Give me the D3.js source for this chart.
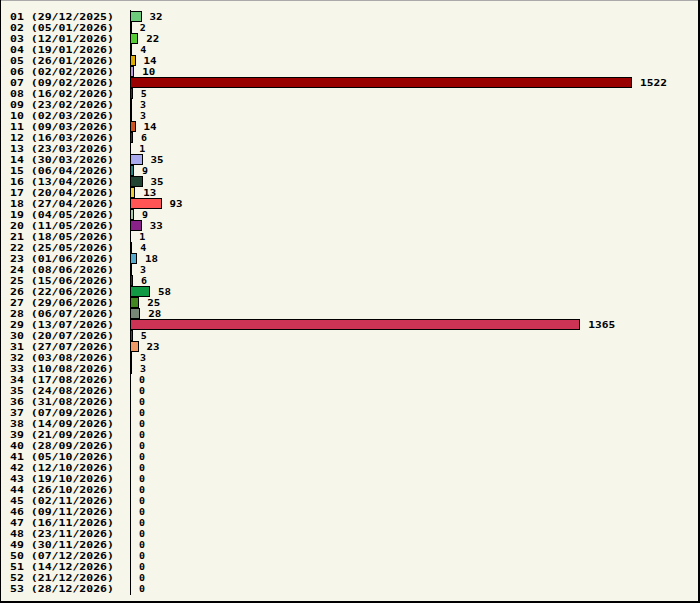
<!DOCTYPE html>
<html><head><meta charset="utf-8">
<script src="https://cdn.jsdelivr.net/npm/d3@7"></script>
<style>html,body{margin:0;padding:0;background:#f6f6ea}svg{display:block}</style>
</head><body>
<svg id="c" width="700" height="603"></svg>
<script>
const weeks = ["01","02","03","04","05","06","07","08","09","10","11","12","13","14","15","16","17","18","19","20","21","22","23","24","25","26","27","28","29","30","31","32","33","34","35","36","37","38","39","40","41","42","43","44","45","46","47","48","49","50","51","52","53"];
const dates = ["29/12/2025","05/01/2026","12/01/2026","19/01/2026","26/01/2026","02/02/2026","09/02/2026","16/02/2026","23/02/2026","02/03/2026","09/03/2026","16/03/2026","23/03/2026","30/03/2026","06/04/2026","13/04/2026","20/04/2026","27/04/2026","04/05/2026","11/05/2026","18/05/2026","25/05/2026","01/06/2026","08/06/2026","15/06/2026","22/06/2026","29/06/2026","06/07/2026","13/07/2026","20/07/2026","27/07/2026","03/08/2026","10/08/2026","17/08/2026","24/08/2026","31/08/2026","07/09/2026","14/09/2026","21/09/2026","28/09/2026","05/10/2026","12/10/2026","19/10/2026","26/10/2026","02/11/2026","09/11/2026","16/11/2026","23/11/2026","30/11/2026","07/12/2026","14/12/2026","21/12/2026","28/12/2026"];
const values = [32,2,22,4,14,10,1522,5,3,3,14,6,1,35,9,35,13,93,9,33,1,4,18,3,6,58,25,28,1365,5,23,3,3,0,0,0,0,0,0,0,0,0,0,0,0,0,0,0,0,0,0,0,0];
const colors = ["#6ccc7c","#888888","#55cc33","#446688","#ddaa00","#bb99dd","#990000","#333333","#777777","#555555","#cc5522","#224422","#666666","#aaaaee","#228888","#224433","#eecc33","#ff5555","#aaccaa","#882288","#555555","#444444","#55aacc","#666666","#333333","#119944","#448822","#778877","#cc3355","#444444","#ee9966","#555555","#555555","#555555","#555555","#555555","#555555","#555555","#555555","#555555","#555555","#555555","#555555","#555555","#555555","#555555","#555555","#555555","#555555","#555555","#555555","#555555","#555555"];

const labels = weeks.map((w,i)=>w+" ("+dates[i]+")");
const svg = d3.select("#c");
const font = "'DejaVu Sans Mono', 'Liberation Mono', monospace";
const fs = "9.4px";
const adv = 7;

svg.append("rect").attr("x",0).attr("y",0).attr("width",700).attr("height",603).attr("fill","#f6f6ea");

const x = d3.scaleLinear().domain([0,1522]).range([130,631]);
const y = d3.scaleBand().domain(labels).range([11,11+11*labels.length]).paddingInner(0);

const rows = svg.append("g").selectAll("g").data(labels).join("g");

rows.append("text")
  .attr("x",10).attr("y",d=>y(d)+y.bandwidth()/2+3.6)
  .attr("font-family",font).attr("font-weight","bold").attr("font-size",fs)
  .attr("textLength",d=>d.length*adv-1).attr("lengthAdjust","spacingAndGlyphs")
  .attr("fill","#000").attr("xml:space","preserve").text(d=>d);

rows.filter((d,i)=>values[i]>0).append("rect")
  .attr("x",x(0)+0.5).attr("y",d=>y(d)+0.5)
  .attr("width",(d,i)=>Math.max(0,x(values[i])-x(0)))
  .attr("height",y.bandwidth()-1)
  .attr("fill",(d,i)=>colors[i]).attr("stroke","#000").attr("stroke-width",1)
  .attr("shape-rendering","crispEdges");

rows.append("text")
  .attr("x",(d,i)=>x(values[i])+9).attr("y",d=>y(d)+y.bandwidth()/2+3.6)
  .attr("font-family",font).attr("font-weight","bold").attr("font-size",fs)
  .attr("textLength",(d,i)=>String(values[i]).length*adv-1).attr("lengthAdjust","spacingAndGlyphs")
  .attr("fill","#000").text((d,i)=>values[i]);

svg.append("line").attr("x1",x(0)+0.5).attr("x2",x(0)+0.5).attr("y1",10).attr("y2",595)
  .attr("stroke","#000").attr("shape-rendering","crispEdges");

// frame
svg.append("line").attr("x1",0).attr("x2",700).attr("y1",0.5).attr("y2",0.5).attr("stroke","#aaaaaa").attr("shape-rendering","crispEdges");
svg.append("line").attr("x1",0.5).attr("x2",0.5).attr("y1",0).attr("y2",603).attr("stroke","#000").attr("shape-rendering","crispEdges");
svg.append("line").attr("x1",698.5).attr("x2",698.5).attr("y1",0).attr("y2",603).attr("stroke","#000").attr("stroke-width",2).attr("shape-rendering","crispEdges");
svg.append("line").attr("x1",0).attr("x2",700).attr("y1",601.5).attr("y2",601.5).attr("stroke","#000").attr("stroke-width",2).attr("shape-rendering","crispEdges");
</script>
</body></html>
